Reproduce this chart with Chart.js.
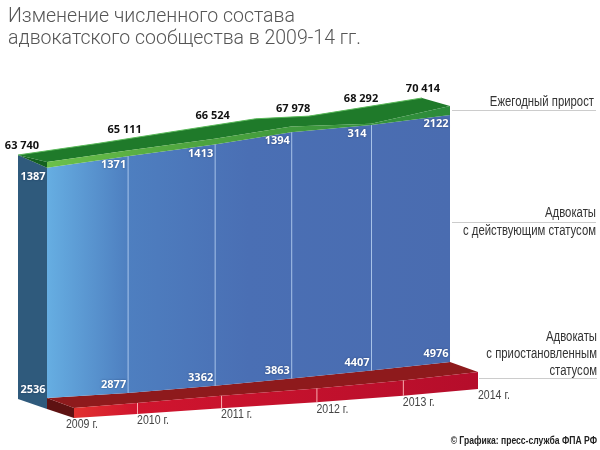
<!DOCTYPE html>
<html>
<head>
<meta charset="utf-8">
<script src="https://cdn.jsdelivr.net/npm/chart.js@4"></script>
<style>
  body { margin: 0; background: #fff; }
</style>
</head>
<body>
<canvas id="myChart" width="600" height="450"></canvas>
<script>
const years = ['2009 г.', '2010 г.', '2011 г.', '2012 г.', '2013 г.', '2014 г.'];
const total = [63740, 65111, 66524, 67978, 68292, 70414];
const growth = [1387, 1371, 1413, 1394, 314, 2122];
const suspended = [2536, 2877, 3362, 3863, 4407, 4976];

// the drawing is a hand made perspective, years are not evenly spaced in it
const backYears = [2009, 2010, 2010.95, 2011.94, 2012.6, 2014];
const frontYears = [2009, 2010, 2011.08, 2012.03, 2013.02, 2014];
const floorYears = [2009, 2009.78, 2010.82, 2012, 2013.07, 2014];

const titleLines = ['Изменение численного состава', 'адвокатского сообщества в 2009-14 гг.'];

const areaTop = 54, areaBottom = 450, areaLeft = 8, areaRight = 600;

// hidden axis whose two known values land on the two given pixels
function yAxis(v1, p1, v2, p2) {
  const k = (v2 - v1) / (p2 - p1);
  return { display: false, bounds: 'data', min: v1 + (areaBottom - p1) * k, max: v1 + (areaTop - p1) * k };
}
function xAxis(p1, p2) {
  const k = 5 / (p2 - p1);
  return { type: 'linear', display: false, bounds: 'data', min: 2009 + (areaLeft - p1) * k, max: 2009 + (areaRight - p1) * k };
}
function edge(xs, ys, xAxisID, yAxisID, extra) {
  return Object.assign({
    data: xs.map((x, i) => ({ x: x, y: ys[i] })),
    xAxisID: xAxisID,
    yAxisID: yAxisID,
    pointRadius: 0,
    borderWidth: 0,
    tension: 0,
    clip: false
  }, extra);
}

const gap = total.map((v, i) => v - growth[i] / 2);

const blueFill = (c) => {
  const g = c.chart.ctx.createLinearGradient(47, 0, 450, 0);
  g.addColorStop(0, '#66aee2');
  g.addColorStop(0.2, '#4e7fc0');
  g.addColorStop(0.5, '#4a6fb4');
  g.addColorStop(1, '#4a6cb0');
  return g;
};
const bandFill = (c) => {
  const g = c.chart.ctx.createLinearGradient(47, 0, 450, 0);
  g.addColorStop(0, '#6cc04a');
  g.addColorStop(0.35, '#4fa53f');
  g.addColorStop(1, '#2b8a3a');
  return g;
};
const redFill = (c) => {
  const g = c.chart.ctx.createLinearGradient(74, 0, 478, 0);
  g.addColorStop(0, '#e2322f');
  g.addColorStop(0.15, '#d0152e');
  g.addColorStop(1, '#b50d2b');
  return g;
};

// depth faces: [dataset, point] corners, filled before the front faces
const faces = [
  { color: '#2f5a7c', corners: [[0, 0], [2, 0], [6, 0], [7, 0]] },
  { color: '#14601f', corners: [[0, 0], [1, 0], [2, 0]] },
  { color: '#1f7a2a', corners: [[0, 0], [0, 1], [0, 2], [0, 3], [0, 4], [0, 5], [1, 5], [1, 4], [1, 3], [1, 2], [1, 1], [1, 0]] },
  { color: '#5e1212', corners: [[3, 0], [4, 0], [5, 0], [6, 0]] },
  { color: '#8e1a1c', corners: [[3, 0], [3, 1], [3, 2], [3, 3], [3, 4], [3, 5], [4, 5], [4, 4], [4, 3], [4, 2], [4, 1], [4, 0]] }
];

const facesPlugin = {
  id: 'faces',
  beforeDatasetsDraw(chart) {
    const ctx = chart.ctx;
    faces.forEach((f) => {
      ctx.beginPath();
      f.corners.forEach((c, i) => {
        const p = chart.getDatasetMeta(c[0]).data[c[1]];
        if (i === 0) ctx.moveTo(p.x, p.y); else ctx.lineTo(p.x, p.y);
      });
      ctx.closePath();
      ctx.fillStyle = f.color;
      ctx.fill();
    });
  }
};

function spaced(v) {
  return String(v).replace(/\B(?=(\d{3})+$)/g, ' ');
}

// no condensed face installed, so squeeze a regular one
function narrow(ctx, text, x, y, squeeze) {
  ctx.save();
  ctx.translate(x, y);
  ctx.scale(squeeze, 1);
  ctx.fillText(text, 0, 0);
  ctx.restore();
}

const valueFont = 'bold 11px "Open Sans"';
const noteFont = '14px "Liberation Sans"';
const totalNudge = [[-25, -16], [-3, -21], [-2, -23], [2, -18], [-10, -25], [-27, -17]];

const notesPlugin = {
  id: 'notes',
  afterDatasetsDraw(chart) {
    const ctx = chart.ctx;
    const pt = (d, i) => chart.getDatasetMeta(d).data[i];
    ctx.save();

    // year dividers
    ctx.lineWidth = 1;
    for (let i = 1; i < 5; i++) {
      ctx.strokeStyle = 'rgba(190,215,245,0.8)';
      ctx.beginPath();
      ctx.moveTo(pt(2, i).x + 0.5, pt(2, i).y);
      ctx.lineTo(pt(3, i).x + 0.5, pt(3, i).y);
      ctx.stroke();
      ctx.strokeStyle = 'rgba(255,190,190,0.9)';
      ctx.beginPath();
      ctx.moveTo(pt(4, i).x + 0.5, pt(4, i).y);
      ctx.lineTo(pt(5, i).x + 0.5, pt(5, i).y);
      ctx.stroke();
    }

    ctx.textBaseline = 'middle';
    ctx.font = valueFont;
    ctx.textAlign = 'center';
    ctx.fillStyle = '#111';
    total.forEach((v, i) => {
      const p = pt(1, i);
      ctx.fillText(spaced(v), p.x + totalNudge[i][0], p.y + totalNudge[i][1]);
    });
    ctx.fillStyle = '#fff';
    ctx.shadowColor = 'rgba(20,40,80,0.6)';
    ctx.shadowBlur = 2;
    growth.forEach((v, i) => {
      const p = pt(2, i);
      ctx.fillText(String(v), p.x - 14, p.y + 9);
    });
    suspended.forEach((v, i) => {
      const p = pt(3, i);
      ctx.fillText(String(v), p.x - 14, p.y - 8);
    });
    ctx.shadowBlur = 0;

    ctx.font = '12px "Liberation Sans"';
    ctx.textAlign = 'left';
    ctx.fillStyle = '#444';
    years.forEach((y, i) => {
      const p = pt(5, i);
      narrow(ctx, y, p.x + (i === 0 ? -8 : 0), p.y + 7, 0.88);
    });

    ctx.textAlign = 'right';
    ctx.fillStyle = '#333';
    ctx.font = noteFont;
    narrow(ctx, 'Ежегодный прирост', 594, 102, 0.81);
    narrow(ctx, 'Адвокаты', 596, 213, 0.81);
    narrow(ctx, 'с действующим статусом', 596, 231, 0.81);
    narrow(ctx, 'Адвокаты', 597, 337, 0.81);
    narrow(ctx, 'с приостановленным', 597, 354, 0.81);
    narrow(ctx, 'статусом', 597, 371, 0.81);

    ctx.strokeStyle = '#ccc';
    [[452, 110, 596], [452, 222, 596], [479, 378, 597]].forEach((l) => {
      ctx.beginPath();
      ctx.moveTo(l[0], l[1] + 0.5);
      ctx.lineTo(l[2], l[1] + 0.5);
      ctx.stroke();
    });

    ctx.font = 'bold 11px "Liberation Sans"';
    ctx.fillStyle = '#222';
    narrow(ctx, '© Графика: пресс-служба ФПА РФ', 597, 441, 0.78);
    ctx.restore();
  }
};

new Chart(document.getElementById('myChart'), {
  type: 'line',
  data: {
    datasets: [
      edge(backYears, total, 'xBack', 'yTotalBack', { borderWidth: 1, borderColor: '#58b858' }),
      edge(frontYears, total, 'xFront', 'yTotalFront', { fill: '+1', backgroundColor: bandFill }),
      edge(frontYears, gap, 'xFront', 'yTotalFront', { fill: '+1', backgroundColor: blueFill }),
      edge(frontYears, suspended, 'xFront', 'yRedBack'),
      edge(floorYears, suspended, 'xFloor', 'yRedFront', { fill: '+1', backgroundColor: redFill }),
      edge(floorYears, suspended, 'xFloor', 'yRedBase'),
      edge(frontYears, suspended, 'xFront', 'yFloorBack'),
      edge(backYears, suspended, 'xBack', 'ySideFoot')
    ]
  },
  plugins: [facesPlugin, notesPlugin],
  options: {
    responsive: false,
    animation: false,
    layout: { padding: { left: areaLeft, right: 0, top: 0, bottom: 0 } },
    plugins: {
      legend: { display: false },
      tooltip: { enabled: false },
      title: {
        display: true,
        text: titleLines,
        align: 'start',
        color: '#555',
        font: { family: 'Roboto', size: 19.5, weight: 300, lineHeight: 1.128 },
        padding: { top: 6, bottom: 4 }
      }
    },
    scales: {
      xBack: xAxis(18, 422),
      xFront: xAxis(47, 450),
      xFloor: xAxis(74, 478),
      yTotalBack: yAxis(63740, 155, 70414, 98),
      yTotalFront: yAxis(63740, 162, 70414, 106),
      yRedBack: yAxis(2536, 398, 4976, 362),
      yRedFront: yAxis(2536, 408, 4976, 372),
      yRedBase: yAxis(2536, 418, 4976, 389),
      yFloorBack: yAxis(2536, 409, 4976, 373),
      ySideFoot: yAxis(2536, 399, 4976, 363)
    }
  }
});
</script>
</body>
</html>
